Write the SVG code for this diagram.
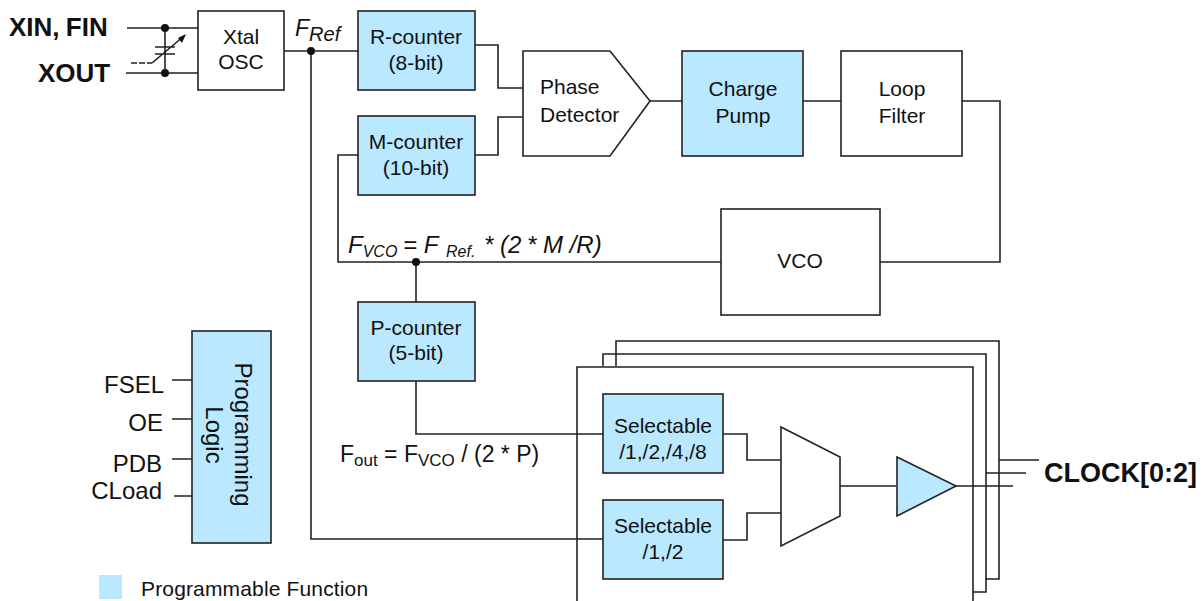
<svg xmlns="http://www.w3.org/2000/svg" width="1203" height="601" viewBox="0 0 1203 601">
<style>
text{font-family:"Liberation Sans",Arial,sans-serif;font-size:21px;fill:#111}
.m{text-anchor:middle}
.e{text-anchor:end}
.b{font-weight:bold;font-size:26px}
.i{font-style:italic}
.box{fill:#fff;stroke:#222;stroke-width:1.6}
.blue{fill:#b9e8ff;stroke:#222;stroke-width:1.6}
.w{fill:none;stroke:#222;stroke-width:1.6}
.d{fill:#111}
</style>
<rect width="1203" height="601" fill="#fff"/>
<g id="stack" class="w">
<path d="M616 366V341H999V579H985"/>
<path d="M603 366V354H986V592H973"/>
</g>
<g id="output-frame"><path class="box" d="M577 601V367H973V601"/></g>
<g id="connectors" class="w">
<path d="M127 28H198M126 73H198M165 28V73"/>
<path d="M155 47H175M155 54H175M152 63L184 36"/>
<path d="M131 63H152" stroke-dasharray="6 2"/>
<path d="M284 51H358M311 51V539H603"/>
<path d="M475 45H498V88H523M475 155H498V117H523"/>
<path d="M650 101H682M803 101H841M962 101H1000V262H880"/>
<path d="M358 155H338V262H721M416 262V302M416 381V434H603"/>
<path d="M723 434H747V460H781M723 540H747V513H781M840 486H896M956 486H1013M999 460H1039M986 473H1026"/>
<path d="M172 380H192M172 419H192M172 459H192M174 496H195"/>
</g>
<g class="d"><circle cx="165" cy="28" r="4"/><circle cx="165" cy="73" r="4"/><circle cx="311" cy="51" r="4"/><circle cx="416" cy="262" r="4"/></g>
<polygon class="d" points="186,34 178,38 182,43"/>
<g id="xtal"><rect class="box" x="198" y="11" width="86" height="79"/><text class="m" x="241" y="44">Xtal</text><text class="m" x="241" y="69">OSC</text></g>
<g id="r-counter"><rect class="blue" x="358" y="11" width="117" height="79"/><text class="m" x="416" y="44">R-counter</text><text class="m" x="416" y="70">(8-bit)</text></g>
<g id="m-counter"><rect class="blue" x="358" y="116" width="117" height="79"/><text class="m" x="416" y="149">M-counter</text><text class="m" x="416" y="175">(10-bit)</text></g>
<g id="phase"><polygon class="box" points="523,51 610,51 650,101 610,156 523,156"/><text x="540" y="94">Phase</text><text x="540" y="122">Detector</text></g>
<g id="pump"><rect class="blue" x="682" y="51" width="121" height="105"/><text class="m" x="743" y="96">Charge</text><text class="m" x="743" y="123">Pump</text></g>
<g id="filter"><rect class="box" x="841" y="51" width="121" height="105"/><text class="m" x="902" y="96">Loop</text><text class="m" x="902" y="123">Filter</text></g>
<g id="vco"><rect class="box" x="721" y="209" width="159" height="106"/><text class="m" x="800" y="268">VCO</text></g>
<g id="p-counter"><rect class="blue" x="358" y="302" width="117" height="79"/><text class="m" x="416" y="335">P-counter</text><text class="m" x="416" y="360">(5-bit)</text></g>
<g id="sel1"><rect class="blue" x="603" y="394" width="120" height="79"/><text class="m" x="663" y="433">Selectable</text><text class="m" x="663" y="459">/1,/2,/4,/8</text></g>
<g id="sel2"><rect class="blue" x="603" y="500" width="120" height="79"/><text class="m" x="663" y="533">Selectable</text><text class="m" x="663" y="559">/1,/2</text></g>
<g id="mux"><polygon class="box" points="781,427 840,457 840,516 781,546"/></g>
<g id="buffer"><polygon class="blue" points="897,457 956,486 897,516"/></g>
<g id="logic"><rect class="blue" x="192" y="331" width="79" height="212"/>
<text class="m" style="font-size:24px" transform="translate(235,434.5) rotate(90)">Programming</text>
<text class="m" style="font-size:24px" transform="translate(206,435) rotate(90)">Logic</text></g>
<text class="b" x="9" y="36">XIN,<tspan dx="-1"> FIN</tspan></text>
<text class="b" x="38" y="82">XOUT</text>
<text class="i" x="295" y="36" style="font-size:23px">F<tspan dy="5" style="font-size:20px">Ref</tspan></text>
<text class="i" x="348" y="253" style="font-size:24px">F<tspan dy="4" style="font-size:16px">VCO</tspan><tspan dy="-4" x="403">= F</tspan><tspan dy="4" x="446" style="font-size:16px">Ref.</tspan><tspan dy="-4" x="484">* (2</tspan><tspan x="527">* M /R)</tspan></text>
<text x="340" y="462" style="font-size:23px">F<tspan dy="4" style="font-size:17px">out</tspan><tspan dy="-4"> = F</tspan><tspan dy="4" style="font-size:17px">VCO</tspan><tspan dy="-4"> / (2 * P)</tspan></text>
<text class="e" x="164" y="393" style="font-size:24px">FSEL</text>
<text class="e" x="163" y="431" style="font-size:24px">OE</text>
<text class="e" x="162" y="472" style="font-size:24px">PDB</text>
<text class="e" x="162" y="499" style="font-size:24px">CLoad</text>
<text class="b" x="1044" y="482" style="font-size:27px">CLOCK[0:2]</text>
<g id="legend"><rect x="99" y="575" width="23" height="24" fill="#b9e8ff"/><text x="141" y="596" style="letter-spacing:.15px">Programmable Function</text></g>
</svg>
